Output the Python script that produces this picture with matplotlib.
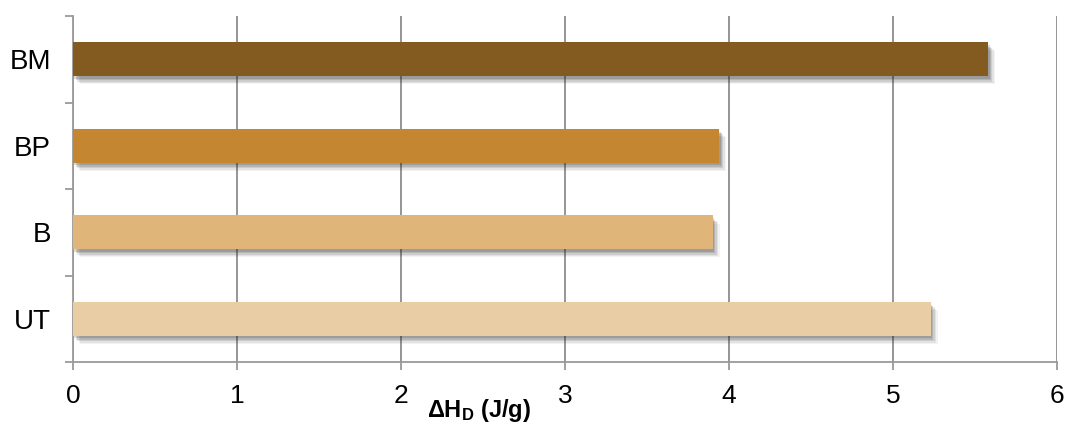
import numpy as np
import matplotlib.pyplot as plt
import matplotlib.patheffects as pe

# ---------- data ----------
categories = ["UT", "B", "BP", "BM"]
values     = [5.23, 3.90, 3.94, 5.58]
colors     = ["#E8CDA5", "#DFB57A", "#C48630", "#835A20"]
xticks     = [0, 1, 2, 3, 4, 5, 6]

plt.rcParams["font.family"] = ["Liberation Sans", "DejaVu Sans"]
plt.rcParams["mathtext.fontset"] = "custom"
plt.rcParams["mathtext.rm"] = "Liberation Sans"
plt.rcParams["mathtext.bf"] = "Liberation Sans:bold"

fig = plt.figure(figsize=(10.66, 4.24), dpi=100)
ax = fig.add_axes([73 / 1066, 1 - 362 / 424, 984 / 1066, 346 / 424])

y = np.arange(len(categories))
bars = ax.barh(y, values, height=0.39, color=colors, zorder=3)
# soft drop shadow: a few stacked faint shadows
shadow = [pe.SimplePatchShadow(offset=(o, -o - 1), shadow_rgbFace="#222222", alpha=a)
          for o, a in ((1, 0.16), (2, 0.14), (3, 0.11), (4, 0.08), (5, 0.05))]
for b in bars:
    b.set_path_effects(shadow + [pe.Normal()])

ax.set_xlim(0, 6)
ax.set_ylim(-0.5, len(categories) - 0.5)
ax.set_xticks(xticks)
ax.set_xticklabels([str(t) for t in xticks], fontsize=19)
ax.set_yticks(y)
ax.set_yticklabels(categories, fontsize=20)
ax.set_yticks(np.arange(-0.5, len(categories)), minor=True)

ax.grid(axis="x", color="#8c8c8c", linewidth=1.3, zorder=0)
ax.set_axisbelow(True)
for s in ["top", "right"]:
    ax.spines[s].set_visible(False)
for s in ["left", "bottom"]:
    ax.spines[s].set_color("#9a9a9a")
    ax.spines[s].set_linewidth(1.3)

ax.tick_params(axis="y", which="major", length=0, pad=16)
ax.tick_params(axis="y", which="minor", length=6, color="#9a9a9a", width=1.3)
ax.tick_params(axis="x", length=6, color="#9a9a9a", width=1.3, pad=10)

ax.set_xlabel(r"$\mathbf{\Delta H_D}$ $\mathbf{(J/g)}$", fontsize=17)
ax.xaxis.set_label_coords(0.413, -0.1)

fig.savefig("out.png", dpi=100)
